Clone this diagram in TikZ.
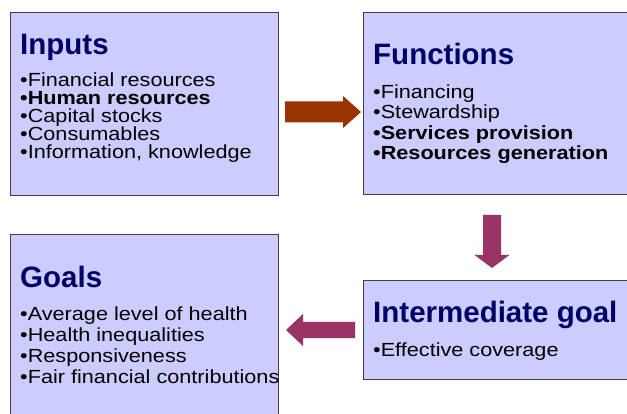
\documentclass[tikz,border=0pt]{standalone}
\usepackage{fontspec}
\setmainfont{Liberation Sans}
\newfontfamily\bodyfont[FakeStretch=1.14]{Liberation Sans}
\usetikzlibrary{calc}
\definecolor{boxfill}{RGB}{204,204,255}
\definecolor{boxline}{RGB}{64,64,64}
\definecolor{titleblue}{RGB}{0,0,102}
\definecolor{arrowbrown}{RGB}{153,51,0}
\definecolor{arrowplum}{RGB}{153,51,102}
\begin{document}
\begin{tikzpicture}[x=1pt,y=-1pt,
  box/.style={draw=boxline, line width=0.8pt, fill=boxfill, anchor=north west, inner sep=0pt},
  ttl/.style={anchor=base west, inner sep=0pt, text=titleblue, font=\fontsize{29.5}{30}\selectfont\bfseries},
  itm/.style={anchor=base west, inner sep=0pt, text=black, font=\bodyfont\fontsize{19}{20}\selectfont},
  bitm/.style={itm, font=\bodyfont\fontsize{19}{20}\selectfont\bfseries}]
\clip (0,0) rectangle (627,414);
\fill[white] (0,0) rectangle (627,414);

% boxes
\node[box, minimum width=268pt, minimum height=183pt] (inputs) at (10,12) {};
\node[box, minimum width=272pt, minimum height=182pt] (functions) at (363,12) {};
\node[box, minimum width=268pt, minimum height=195pt] (goals) at (10,234) {};
\node[box, minimum width=272pt, minimum height=99pt] (inter) at (363,280) {};

% Inputs
\node[ttl] (inputsT) at (20,55) {Inputs};
\node[itm]  (in1) at (20,87) {•Financial resources};
\node[bitm] (in2) at (20,105) {•Human resources};
\node[itm]  (in3) at (20,123) {•Capital stocks};
\node[itm]  (in4) at (20,141) {•Consumables};
\node[itm]  (in5) at (20,159) {•Information, knowledge};

% Functions
\node[ttl] (functionsT) at (373,65) {Functions};
\node[itm]  (fn1) at (373,98.5) {•Financing};
\node[itm]  (fn2) at (373,119) {•Stewardship};
\node[bitm] (fn3) at (373,139.5) {•Services provision};
\node[bitm] (fn4) at (373,160) {•Resources generation};

% Goals
\node[ttl] (goalsT) at (20,288) {Goals};
\node[itm] (gl1) at (20,320.5) {•Average level of health};
\node[itm] (gl2) at (20,341.5) {•Health inequalities};
\node[itm] (gl3) at (20,362.5) {•Responsiveness};
\node[itm] (gl4) at (20,383.5) {•Fair financial contributions};

% Intermediate goal
\node[ttl] (interT) at (373,323) {Intermediate goal};
\node[itm] (it1) at (373,356) {•Effective coverage};

% block arrows
\coordinate (ra) at (285,112);
\coordinate (rb) at (361,112);
\fill[arrowbrown] ($(ra)+(0,-10.5)$) -- ($(rb)+(-18,-10.5)$) -- ($(rb)+(-18,-16)$) -- (rb)
  -- ($(rb)+(-18,16)$) -- ($(rb)+(-18,10.5)$) -- ($(ra)+(0,10.5)$) -- cycle;

\coordinate (da) at (492,215);
\coordinate (db) at (492,268);
\fill[arrowplum] ($(da)+(-9,0)$) -- ($(db)+(-9,-13)$) -- ($(db)+(-17.5,-13)$) -- (db)
  -- ($(db)+(17.5,-13)$) -- ($(db)+(9,-13)$) -- ($(da)+(9,0)$) -- cycle;

\coordinate (la) at (355,330);
\coordinate (lb) at (286,330);
\fill[arrowplum] ($(la)+(0,-8)$) -- ($(lb)+(17,-8)$) -- ($(lb)+(17,-16)$) -- (lb)
  -- ($(lb)+(17,16)$) -- ($(lb)+(17,8)$) -- ($(la)+(0,8)$) -- cycle;
\end{tikzpicture}
\end{document}
